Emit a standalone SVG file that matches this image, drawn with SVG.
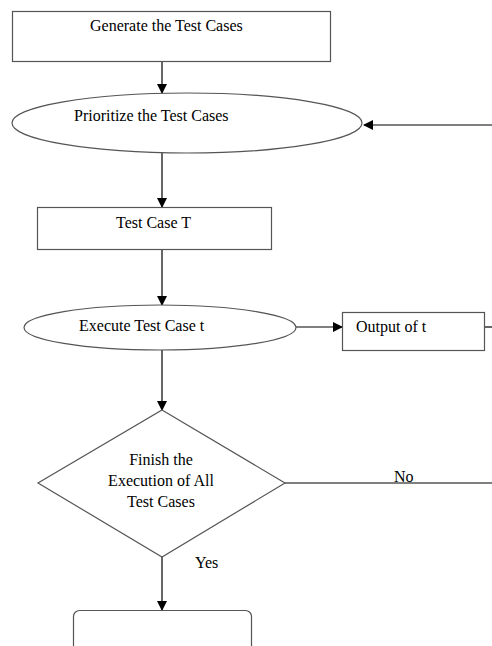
<svg xmlns="http://www.w3.org/2000/svg" width="492" height="646" viewBox="0 0 492 646">
<style>
.s{fill:#fff;stroke:#555;stroke-width:1.2}
.t{font-family:"Liberation Serif","Times New Roman",serif;font-size:16px;fill:#000}
.c{stroke:#000;stroke-width:1.2;fill:none}
</style>
<defs>
<marker id="a" markerWidth="10" markerHeight="10" refX="9" refY="5" orient="auto" markerUnits="userSpaceOnUse">
<path d="M0,0 L10,5 L0,10 Z" fill="#000"/>
</marker>
</defs>
<rect width="492" height="646" fill="#fff"/>
<g id="connectors">
<line class="c" x1="162" y1="61" x2="162" y2="93" marker-end="url(#a)"/>
<line class="c" x1="492" y1="125" x2="364" y2="125" marker-end="url(#a)"/>
<line class="c" x1="162" y1="153" x2="162" y2="207" marker-end="url(#a)"/>
<line class="c" x1="162" y1="249" x2="162" y2="305" marker-end="url(#a)"/>
<line class="c" x1="296" y1="327" x2="342" y2="327" marker-end="url(#a)"/>
<line class="c" x1="484" y1="327" x2="492" y2="327"/>
<line class="c" x1="162" y1="350" x2="162" y2="410" marker-end="url(#a)"/>
<line class="c" x1="285" y1="483" x2="492" y2="483"/>
<line class="c" x1="162" y1="557" x2="162" y2="610" marker-end="url(#a)"/>
<text class="t" x="394" y="482">No</text>
<text class="t" x="195" y="568">Yes</text>
</g>
<g id="generate">
<rect class="s" x="12.5" y="11.5" width="318" height="50"/>
<text class="t" x="90" y="31">Generate the Test Cases</text>
</g>
<g id="prioritize">
<ellipse class="s" cx="187" cy="123" rx="175" ry="30"/>
<text class="t" x="74" y="121">Prioritize the Test Cases</text>
</g>
<g id="testcase">
<rect class="s" x="37.5" y="207.5" width="234" height="42"/>
<text class="t" x="116" y="228">Test Case T</text>
</g>
<g id="execute">
<ellipse class="s" cx="160" cy="327.5" rx="136" ry="22.5"/>
<text class="t" x="79" y="331">Execute Test Case t</text>
</g>
<g id="output">
<rect class="s" x="342.5" y="312.5" width="142" height="38"/>
<text class="t" x="356" y="332">Output of t</text>
</g>
<g id="decision">
<polygon class="s" points="162,410 285,483 162,557 38,483"/>
<text class="t" x="161" y="465" text-anchor="middle">Finish the</text>
<text class="t" x="161" y="486" text-anchor="middle">Execution of All</text>
<text class="t" x="161" y="507" text-anchor="middle">Test Cases</text>
</g>
<g id="end">
<rect class="s" x="73.5" y="610.5" width="178" height="50" rx="6"/>
</g>
</svg>
